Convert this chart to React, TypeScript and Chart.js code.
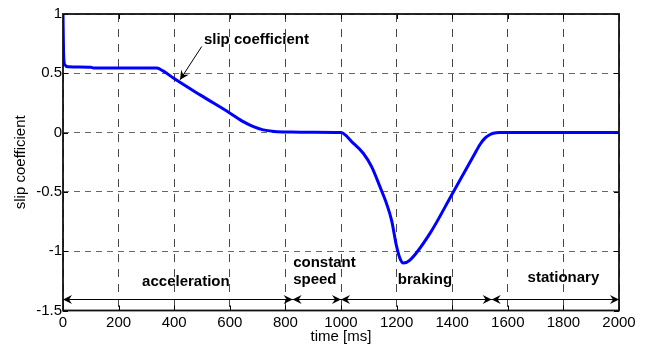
import React, { useEffect, useRef } from 'react';
import { Chart, registerables } from 'chart.js';

Chart.register(...registerables);

// ---- data ----
const timeMs = [0, 2, 6, 20, 100, 110, 200, 337, 360, 397, 493, 601, 650, 685, 720, 760, 820, 900, 1000, 1040, 1080, 1110, 1140, 1164, 1182, 1200, 1212, 1224, 1248, 1320, 1404, 1476, 1500, 1518, 1535, 1548, 1570, 1600, 1800, 2000];
const slipCoeff = [1.0, 0.68, 0.575, 0.555, 0.55, 0.545, 0.545, 0.544, 0.52, 0.46, 0.318, 0.164, 0.09, 0.05, 0.023, 0.01, 0.005, 0.003, 0, -0.08, -0.174, -0.287, -0.456, -0.6, -0.74, -0.96, -1.06, -1.1, -1.075, -0.85, -0.5, -0.2, -0.1, -0.047, -0.018, -0.006, 0, 0, 0, 0];
const xTickValues = [0, 200, 400, 600, 800, 1000, 1200, 1400, 1600, 1800, 2000];
const yTickValues = [-1.5, -1, -0.5, 0, 0.5, 1];
const phaseBounds = [0, 826, 1000, 1542, 2000];
const phaseRowValue = -1.4;
const curveLabel = 'slip coefficient';
const xTitle = 'time [ms]';
const yTitle = 'slip coefficient';

const FONT = '"Liberation Sans", Arial, sans-serif';

function arrowHead(ctx: CanvasRenderingContext2D, tx: number, ty: number, angle: number) {
  const len = 9;
  const hw = 4.5;
  const ind = 6;
  ctx.save();
  ctx.translate(tx, ty);
  ctx.rotate(angle);
  ctx.beginPath();
  ctx.moveTo(0, 0);
  ctx.lineTo(-len, -hw);
  ctx.lineTo(-ind, 0);
  ctx.lineTo(-len, hw);
  ctx.closePath();
  ctx.fill();
  ctx.restore();
}

const overlay = {
  id: 'overlay',
  afterDatasetsDraw(chart: any) {
    const { ctx, chartArea: a, scales } = chart;
    const x = scales.x;
    const y = scales.y;
    ctx.save();
    ctx.setLineDash([]);
    // inner tick marks
    ctx.strokeStyle = '#000';
    ctx.lineWidth = 1;
    ctx.beginPath();
    for (const v of xTickValues) {
      const px = Math.round(x.getPixelForValue(v)) + 0.5;
      ctx.moveTo(px, a.bottom); ctx.lineTo(px, a.bottom - 5);
      ctx.moveTo(px, a.top); ctx.lineTo(px, a.top + 5);
    }
    for (const v of yTickValues) {
      const py = Math.round(y.getPixelForValue(v)) + 0.5;
      ctx.moveTo(a.left, py); ctx.lineTo(a.left + 5, py);
      ctx.moveTo(a.right, py); ctx.lineTo(a.right - 5, py);
    }
    ctx.stroke();
    // box
    ctx.lineWidth = 1.8;
    ctx.strokeStyle = '#111';
    ctx.strokeRect(a.left, a.top, a.right - a.left, a.bottom - a.top);

    // phase arrows
    const rowY = Math.round(y.getPixelForValue(phaseRowValue)) + 0.5;
    ctx.lineWidth = 1;
    ctx.strokeStyle = '#000';
    ctx.fillStyle = '#000';
    ctx.beginPath();
    ctx.moveTo(x.getPixelForValue(phaseBounds[0]), rowY);
    ctx.lineTo(x.getPixelForValue(phaseBounds[phaseBounds.length - 1]), rowY);
    ctx.stroke();
    for (let i = 0; i < phaseBounds.length - 1; i++) {
      const p0 = x.getPixelForValue(phaseBounds[i]);
      const p1 = x.getPixelForValue(phaseBounds[i + 1]);
      arrowHead(ctx, p0, rowY, Math.PI);
      arrowHead(ctx, p1, rowY, 0);
    }

    // labels
    ctx.font = `bold 15px ${FONT}`;
    ctx.textBaseline = 'middle';
    ctx.textAlign = 'center';
    ctx.fillText('acceleration', x.getPixelForValue(442), y.getPixelForValue(-1.26));
    ctx.fillText('braking', x.getPixelForValue(1302), y.getPixelForValue(-1.245));
    ctx.fillText('stationary', x.getPixelForValue(1800), y.getPixelForValue(-1.228));
    ctx.textAlign = 'left';
    ctx.fillText('constant', x.getPixelForValue(828), y.getPixelForValue(-1.1));
    ctx.fillText('speed', x.getPixelForValue(828), y.getPixelForValue(-1.245));
    ctx.fillText(curveLabel, x.getPixelForValue(507), y.getPixelForValue(0.783));

    // curve-label arrow
    const sx = x.getPixelForValue(499), sy = y.getPixelForValue(0.726);
    const ex = x.getPixelForValue(421), ey = y.getPixelForValue(0.445);
    ctx.beginPath();
    ctx.moveTo(sx, sy); ctx.lineTo(ex, ey);
    ctx.stroke();
    arrowHead(ctx, ex, ey, Math.atan2(ey - sy, ex - sx));

    // axis titles
    ctx.font = `15px ${FONT}`;
    ctx.textAlign = 'center';
    ctx.fillText(xTitle, (a.left + a.right) / 2, 337);
    ctx.save();
    ctx.translate(21, (a.top + a.bottom) / 2);
    ctx.rotate(-Math.PI / 2);
    ctx.fillText(yTitle, 0, 0);
    ctx.restore();
    ctx.restore();
  },
};

export default function App() {
  const ref = useRef<HTMLCanvasElement | null>(null);
  useEffect(() => {
    if (!ref.current) return;
    const chart = new Chart(ref.current, {
      type: 'line',
      data: {
        datasets: [
          {
            data: timeMs.map((t, i) => ({ x: t, y: slipCoeff[i] })),
            borderColor: '#0000ff',
            borderWidth: 3,
            pointRadius: 0,
            cubicInterpolationMode: 'monotone',
            fill: false,
          },
        ],
      },
      options: {
        animation: false,
        responsive: false,
        maintainAspectRatio: false,
        events: [],
        layout: { padding: { left: 0, right: 32, top: 14, bottom: 0 } },
        plugins: { legend: { display: false }, tooltip: { enabled: false } },
        scales: {
          x: {
            type: 'linear',
            min: 0,
            max: 2000,
            afterBuildTicks: (s: any) => { s.ticks = xTickValues.map((v) => ({ value: v })); },
            afterFit: (s: any) => { s.height = 36.5; },
            ticks: {
              autoSkip: false,
              maxRotation: 0,
              padding: 3,
              color: '#000',
              font: { family: FONT, size: 15 },
              callback: (v: any) => String(v),
            },
            grid: { color: 'rgba(0,0,0,0.72)', lineWidth: 1, drawTicks: false },
            border: { display: false, dash: [8, 7] },
          },
          y: {
            type: 'linear',
            min: -1.5,
            max: 1,
            afterBuildTicks: (s: any) => { s.ticks = yTickValues.map((v) => ({ value: v })); },
            afterFit: (s: any) => { s.width = 63; },
            ticks: {
              autoSkip: false,
              padding: 1,
              color: '#000',
              font: { family: FONT, size: 15 },
              callback: (v: any) => String(v),
            },
            grid: { color: 'rgba(0,0,0,0.6)', lineWidth: 1, drawTicks: false },
            border: { display: false, dash: [6, 5] },
          },
        },
      },
      plugins: [overlay],
    } as any);
    return () => chart.destroy();
  }, []);
  return (
    <div style={{ position: 'fixed', left: 0, top: 0, width: 651, height: 347, background: '#fff' }}>
      <canvas ref={ref} width={651} height={347} style={{ display: 'block' }} />
    </div>
  );
}
